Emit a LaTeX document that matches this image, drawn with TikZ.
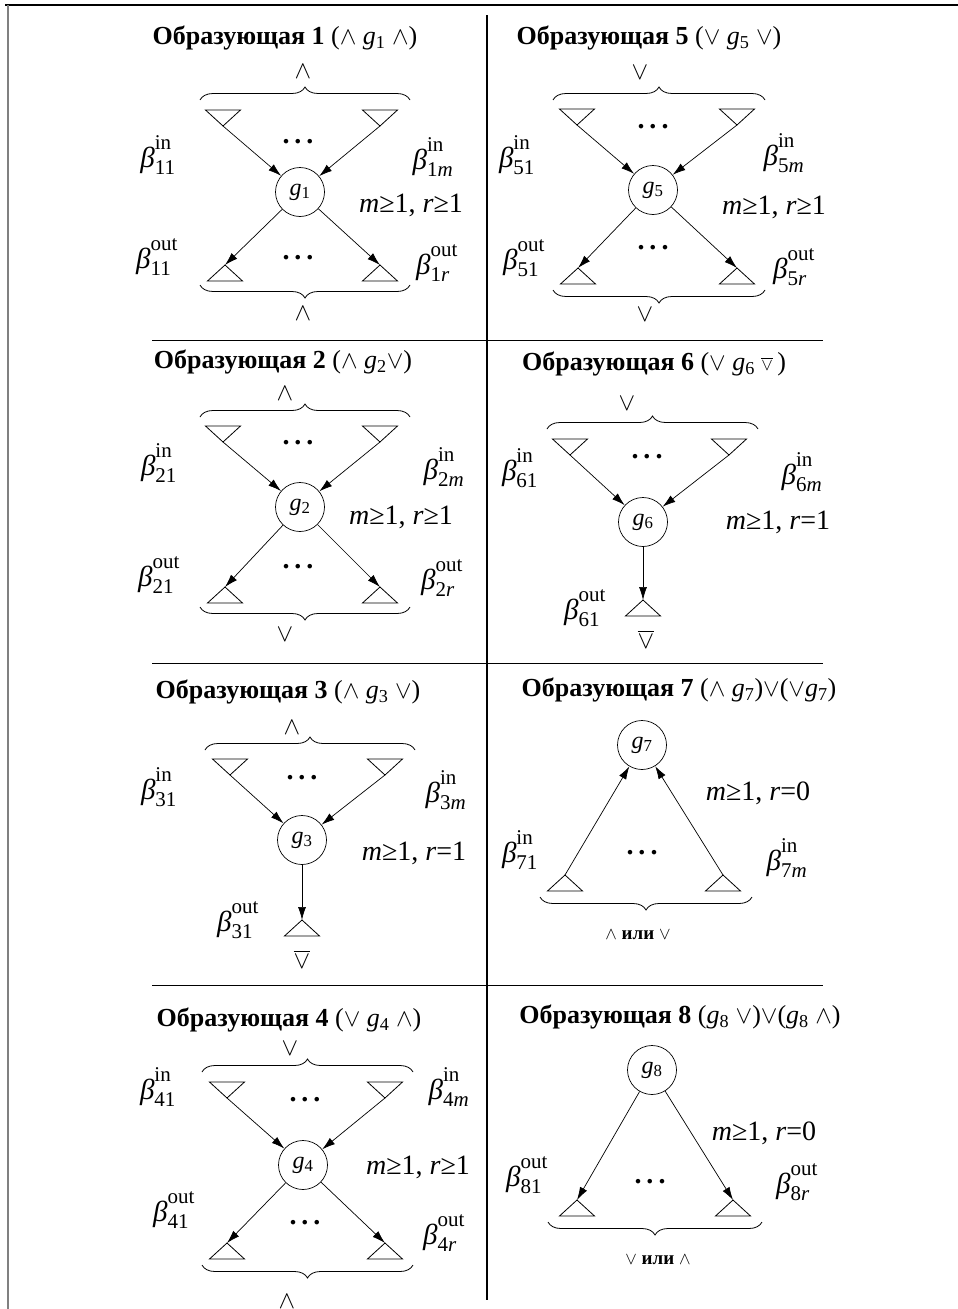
\documentclass[tikz,border=0pt]{standalone}
\usepackage{fontspec}
\setmainfont{Liberation Serif}
\usepackage{amsmath}
\usetikzlibrary{arrows.meta,decorations.pathreplacing}
\newcommand\bt[2]{$\text{\fontsize{29}{30}\selectfont\itshape β}^{\text{\fontsize{21}{22}\selectfont #1}}_{\text{\fontsize{21}{22}\selectfont #2}}$}
\newcommand\gi[1]{\textit{g}$_{\text{#1}}$}
\newcommand\trdn[1]{\draw[tri] (#1) -- ++(-17.5,-16) -- ++(35,0) -- cycle;}
\newcommand\trup[1]{\draw[tri] (#1) -- ++(-17.5,16) -- ++(35,0) -- cycle;}
\tikzset{
 ttl/.style={font=\fontsize{26}{28}\selectfont, inner sep=0pt},
 lb/.style={inner sep=0pt},
 cnd/.style={font=\fontsize{28}{30}\selectfont, inner sep=0pt},
 gn/.style={draw, circle, minimum size=49pt, inner sep=0pt, line width=0.7pt, font=\fontsize{24}{26}\selectfont},
 arr/.style={line width=0.7pt, -{Latex[length=13pt,width=8pt]}},
 tri/.style={line width=0.8pt},
 brc/.style={decorate, decoration={brace, amplitude=13pt}, line width=0.8pt},
 op/.style={font=\fontsize{24}{26}\selectfont, inner sep=0pt},
 smallop/.style={font=\fontsize{19}{20}\selectfont, inner sep=0pt},
 dts/.style={font=\fontsize{28}{30}\selectfont\bfseries, inner sep=0pt},
 sep/.style={line width=0.9pt},
}
\newcommand\dd{.\hspace{5pt}.\hspace{5pt}.}
\begin{document}
\begin{tikzpicture}[x=1pt,y=-1pt]
\useasboundingbox (0,0) rectangle (958,1309);
% frame
\draw[line width=1.2pt] (5,5) -- (958,5);
\draw[line width=1.4pt, gray] (8,5) -- (8,1309);
\draw[line width=1.3pt] (487,15) -- (487,1300);
\draw[sep] (152,340) -- (823,340);
\draw[sep] (152,663) -- (823,663);
\draw[sep] (152,985) -- (823,985);

% ===== Panel 1 =====
\node[ttl] (t1) at (285,38) {{\bfseries Образующая 1} ($\wedge$ \gi{1} $\wedge$)};
\node[op] (o1t) at (303,72) {$\wedge$};
\draw[brc] (200,100) -- (410,100);
\coordinate (a1l) at (223,126); \coordinate (a1r) at (380,126);
\trdn{a1l} \trdn{a1r}
\node[dts] (d1t) at (298,142) {\dd};
\node[gn] (c1) at (300,192) {\gi{1}};
\coordinate (b1l) at (225,265); \coordinate (b1r) at (380,265);
\trup{b1l} \trup{b1r}
\node[dts] (d1b) at (298,258) {\dd};
\draw[brc] (410,285) -- (200,285);
\node[op] (o1b) at (303,314) {$\wedge$};
\draw[arr] (a1l) -- (c1); \draw[arr] (a1r) -- (c1);
\draw[arr] (c1) -- (b1l); \draw[arr] (c1) -- (b1r);
\node[lb] (l1a) at (158,155) {\bt{in}{11}};
\node[lb] (l1b) at (433,157) {\bt{in}{1\itshape m}};
\node[cnd] (k1) at (411,205) {\textit{m}≥1, \textit{r}≥1};
\node[lb] (l1c) at (157,257) {\bt{out}{11}};
\node[lb] (l1d) at (437,263) {\bt{out}{1\itshape r}};

% ===== Panel 2 =====
\node[ttl] (t2) at (283,362) {{\bfseries Образующая 2} ($\wedge$ \gi{2}$\vee$)};
\node[op] (o2t) at (285,394) {$\wedge$};
\draw[brc] (200,417) -- (410,417);
\coordinate (a2l) at (223,442); \coordinate (a2r) at (380,442);
\trdn{a2l} \trdn{a2r}
\node[dts] (d2t) at (298,443) {\dd};
\node[gn] (c2) at (300,507) {\gi{2}};
\coordinate (b2l) at (225,587); \coordinate (b2r) at (380,587);
\trup{b2l} \trup{b2r}
\node[dts] (d2b) at (298,567) {\dd};
\draw[brc] (410,607) -- (200,607);
\node[op] (o2b) at (285,635) {$\vee$};
\draw[arr] (a2l) -- (c2); \draw[arr] (a2r) -- (c2);
\draw[arr] (c2) -- (b2l); \draw[arr] (c2) -- (b2r);
\node[lb] (l2a) at (159,463) {\bt{in}{21}};
\node[lb] (l2b) at (444,467) {\bt{in}{2\itshape m}};
\node[cnd] (k2) at (401,517) {\textit{m}≥1, \textit{r}≥1};
\node[lb] (l2c) at (159,575) {\bt{out}{21}};
\node[lb] (l2d) at (442,578) {\bt{out}{2\itshape r}};

% ===== Panel 3 =====
\node[ttl] (t3) at (288,692) {{\bfseries Образующая 3} ($\wedge$ \gi{3} $\vee$)};
\node[op] (o3t) at (292,728) {$\wedge$};
\draw[brc] (205,750) -- (415,750);
\coordinate (a3l) at (230,775); \coordinate (a3r) at (385,775);
\trdn{a3l} \trdn{a3r}
\node[dts] (d3t) at (302,778) {\dd};
\node[gn] (c3) at (302,840) {\gi{3}};
\coordinate (b3) at (302,920);
\trup{b3}
\node[op] (o3b) at (302,959) {$\overline{\vee}$};
\draw[arr] (a3l) -- (c3); \draw[arr] (a3r) -- (c3);
\draw[arr] (c3) -- (b3);
\node[lb] (l3a) at (159,787) {\bt{in}{31}};
\node[lb] (l3b) at (446,790) {\bt{in}{3\itshape m}};
\node[cnd] (k3) at (414,853) {\textit{m}≥1, \textit{r}=1};
\node[lb] (l3c) at (238,920) {\bt{out}{31}};

% ===== Panel 4 =====
\node[ttl] (t4) at (289,1020) {{\bfseries Образующая 4} ($\vee$ \gi{4} $\wedge$)};
\node[op] (o4t) at (290,1049) {$\vee$};
\draw[brc] (202,1072) -- (413,1072);
\coordinate (a4l) at (227,1098); \coordinate (a4r) at (385,1098);
\trdn{a4l} \trdn{a4r}
\node[dts] (d4t) at (305,1100) {\dd};
\node[gn] (c4) at (303,1165) {\gi{4}};
\coordinate (b4l) at (227,1243); \coordinate (b4r) at (385,1243);
\trup{b4l} \trup{b4r}
\node[dts] (d4b) at (305,1223) {\dd};
\draw[brc] (413,1265) -- (202,1265);
\node[op] (o4b) at (287,1302) {$\wedge$};
\draw[arr] (a4l) -- (c4); \draw[arr] (a4r) -- (c4);
\draw[arr] (c4) -- (b4l); \draw[arr] (c4) -- (b4r);
\node[lb] (l4a) at (158,1087) {\bt{in}{41}};
\node[lb] (l4b) at (449,1087) {\bt{in}{4\itshape m}};
\node[cnd] (k4) at (418,1167) {\textit{m}≥1, \textit{r}≥1};
\node[lb] (l4c) at (174,1210) {\bt{out}{41}};
\node[lb] (l4d) at (444,1233) {\bt{out}{4\itshape r}};

% ===== Panel 5 =====
\node[ttl] (t5) at (649,38) {{\bfseries Образующая 5} ($\vee$ \gi{5} $\vee$)};
\node[op] (o5t) at (640,73) {$\vee$};
\draw[brc] (553,100) -- (765,100);
\coordinate (a5l) at (577,125); \coordinate (a5r) at (737,125);
\trdn{a5l} \trdn{a5r}
\node[dts] (d5t) at (653,127) {\dd};
\node[gn] (c5) at (653,190) {\gi{5}};
\coordinate (b5l) at (578,268); \coordinate (b5r) at (737,268);
\trup{b5l} \trup{b5r}
\node[dts] (d5b) at (653,248) {\dd};
\draw[brc] (765,290) -- (553,290);
\node[op] (o5b) at (645,315) {$\vee$};
\draw[arr] (a5l) -- (c5); \draw[arr] (a5r) -- (c5);
\draw[arr] (c5) -- (b5l); \draw[arr] (c5) -- (b5r);
\node[lb] (l5a) at (517,155) {\bt{in}{51}};
\node[lb] (l5b) at (784,153) {\bt{in}{5\itshape m}};
\node[cnd] (k5) at (774,207) {\textit{m}≥1, \textit{r}≥1};
\node[lb] (l5c) at (524,258) {\bt{out}{51}};
\node[lb] (l5d) at (794,267) {\bt{out}{5\itshape r}};

% ===== Panel 6 =====
\node[ttl] (t6) at (654,364) {{\bfseries Образующая 6} ($\vee$ \gi{6} {\fontsize{18}{18}\selectfont$\overline{\vee}$}\,)};
\node[op] (o6t) at (627,404) {$\vee$};
\draw[brc] (547,429) -- (758,429);
\coordinate (a6l) at (570,455); \coordinate (a6r) at (729,455);
\trdn{a6l} \trdn{a6r}
\node[dts] (d6t) at (647,457) {\dd};
\node[gn] (c6) at (643,522) {\gi{6}};
\coordinate (b6) at (643,600);
\trup{b6}
\node[op] (o6b) at (646,639) {$\overline{\vee}$};
\draw[arr] (a6l) -- (c6); \draw[arr] (a6r) -- (c6);
\draw[arr] (c6) -- (b6);
\node[lb] (l6a) at (520,468) {\bt{in}{61}};
\node[lb] (l6b) at (802,472) {\bt{in}{6\itshape m}};
\node[cnd] (k6) at (778,522) {\textit{m}≥1, \textit{r}=1};
\node[lb] (l6c) at (585,608) {\bt{out}{61}};

% ===== Panel 7 =====
\node[ttl] (t7) at (679,690) {{\bfseries Образующая 7} ($\wedge$ \gi{7})$\vee$($\vee$\gi{7})};
\node[gn] (c7) at (642,745) {\gi{7}};
\coordinate (b7l) at (565,875); \coordinate (b7r) at (723,875);
\trup{b7l} \trup{b7r}
\node[dts] (d7) at (642,853) {\dd};
\draw[brc] (752,897) -- (540,897);
\node[smallop] (o7) at (638,935) {$\wedge$ {\bfseries или} $\vee$};
\draw[arr] (b7l) -- (c7); \draw[arr] (b7r) -- (c7);
\node[cnd] (k7) at (758,793) {\textit{m}≥1, \textit{r}=0};
\node[lb] (l7a) at (520,850) {\bt{in}{71}};
\node[lb] (l7b) at (787,858) {\bt{in}{7\itshape m}};

% ===== Panel 8 =====
\node[ttl] (t8) at (680,1017) {{\bfseries Образующая 8} (\gi{8} $\vee$)$\vee$(\gi{8} $\wedge$)};
\node[gn] (c8) at (652,1070) {\gi{8}};
\coordinate (b8l) at (577,1200); \coordinate (b8r) at (733,1200);
\trup{b8l} \trup{b8r}
\node[dts] (d8) at (650,1182) {\dd};
\draw[brc] (762,1222) -- (548,1222);
\node[smallop] (o8) at (658,1260) {$\vee$ {\bfseries или} $\wedge$};
\draw[arr] (c8) -- (b8l); \draw[arr] (c8) -- (b8r);
\node[cnd] (k8) at (764,1133) {\textit{m}≥1, \textit{r}=0};
\node[lb] (l8a) at (527,1175) {\bt{out}{81}};
\node[lb] (l8b) at (797,1182) {\bt{out}{8\itshape r}};
\end{tikzpicture}
\end{document}
